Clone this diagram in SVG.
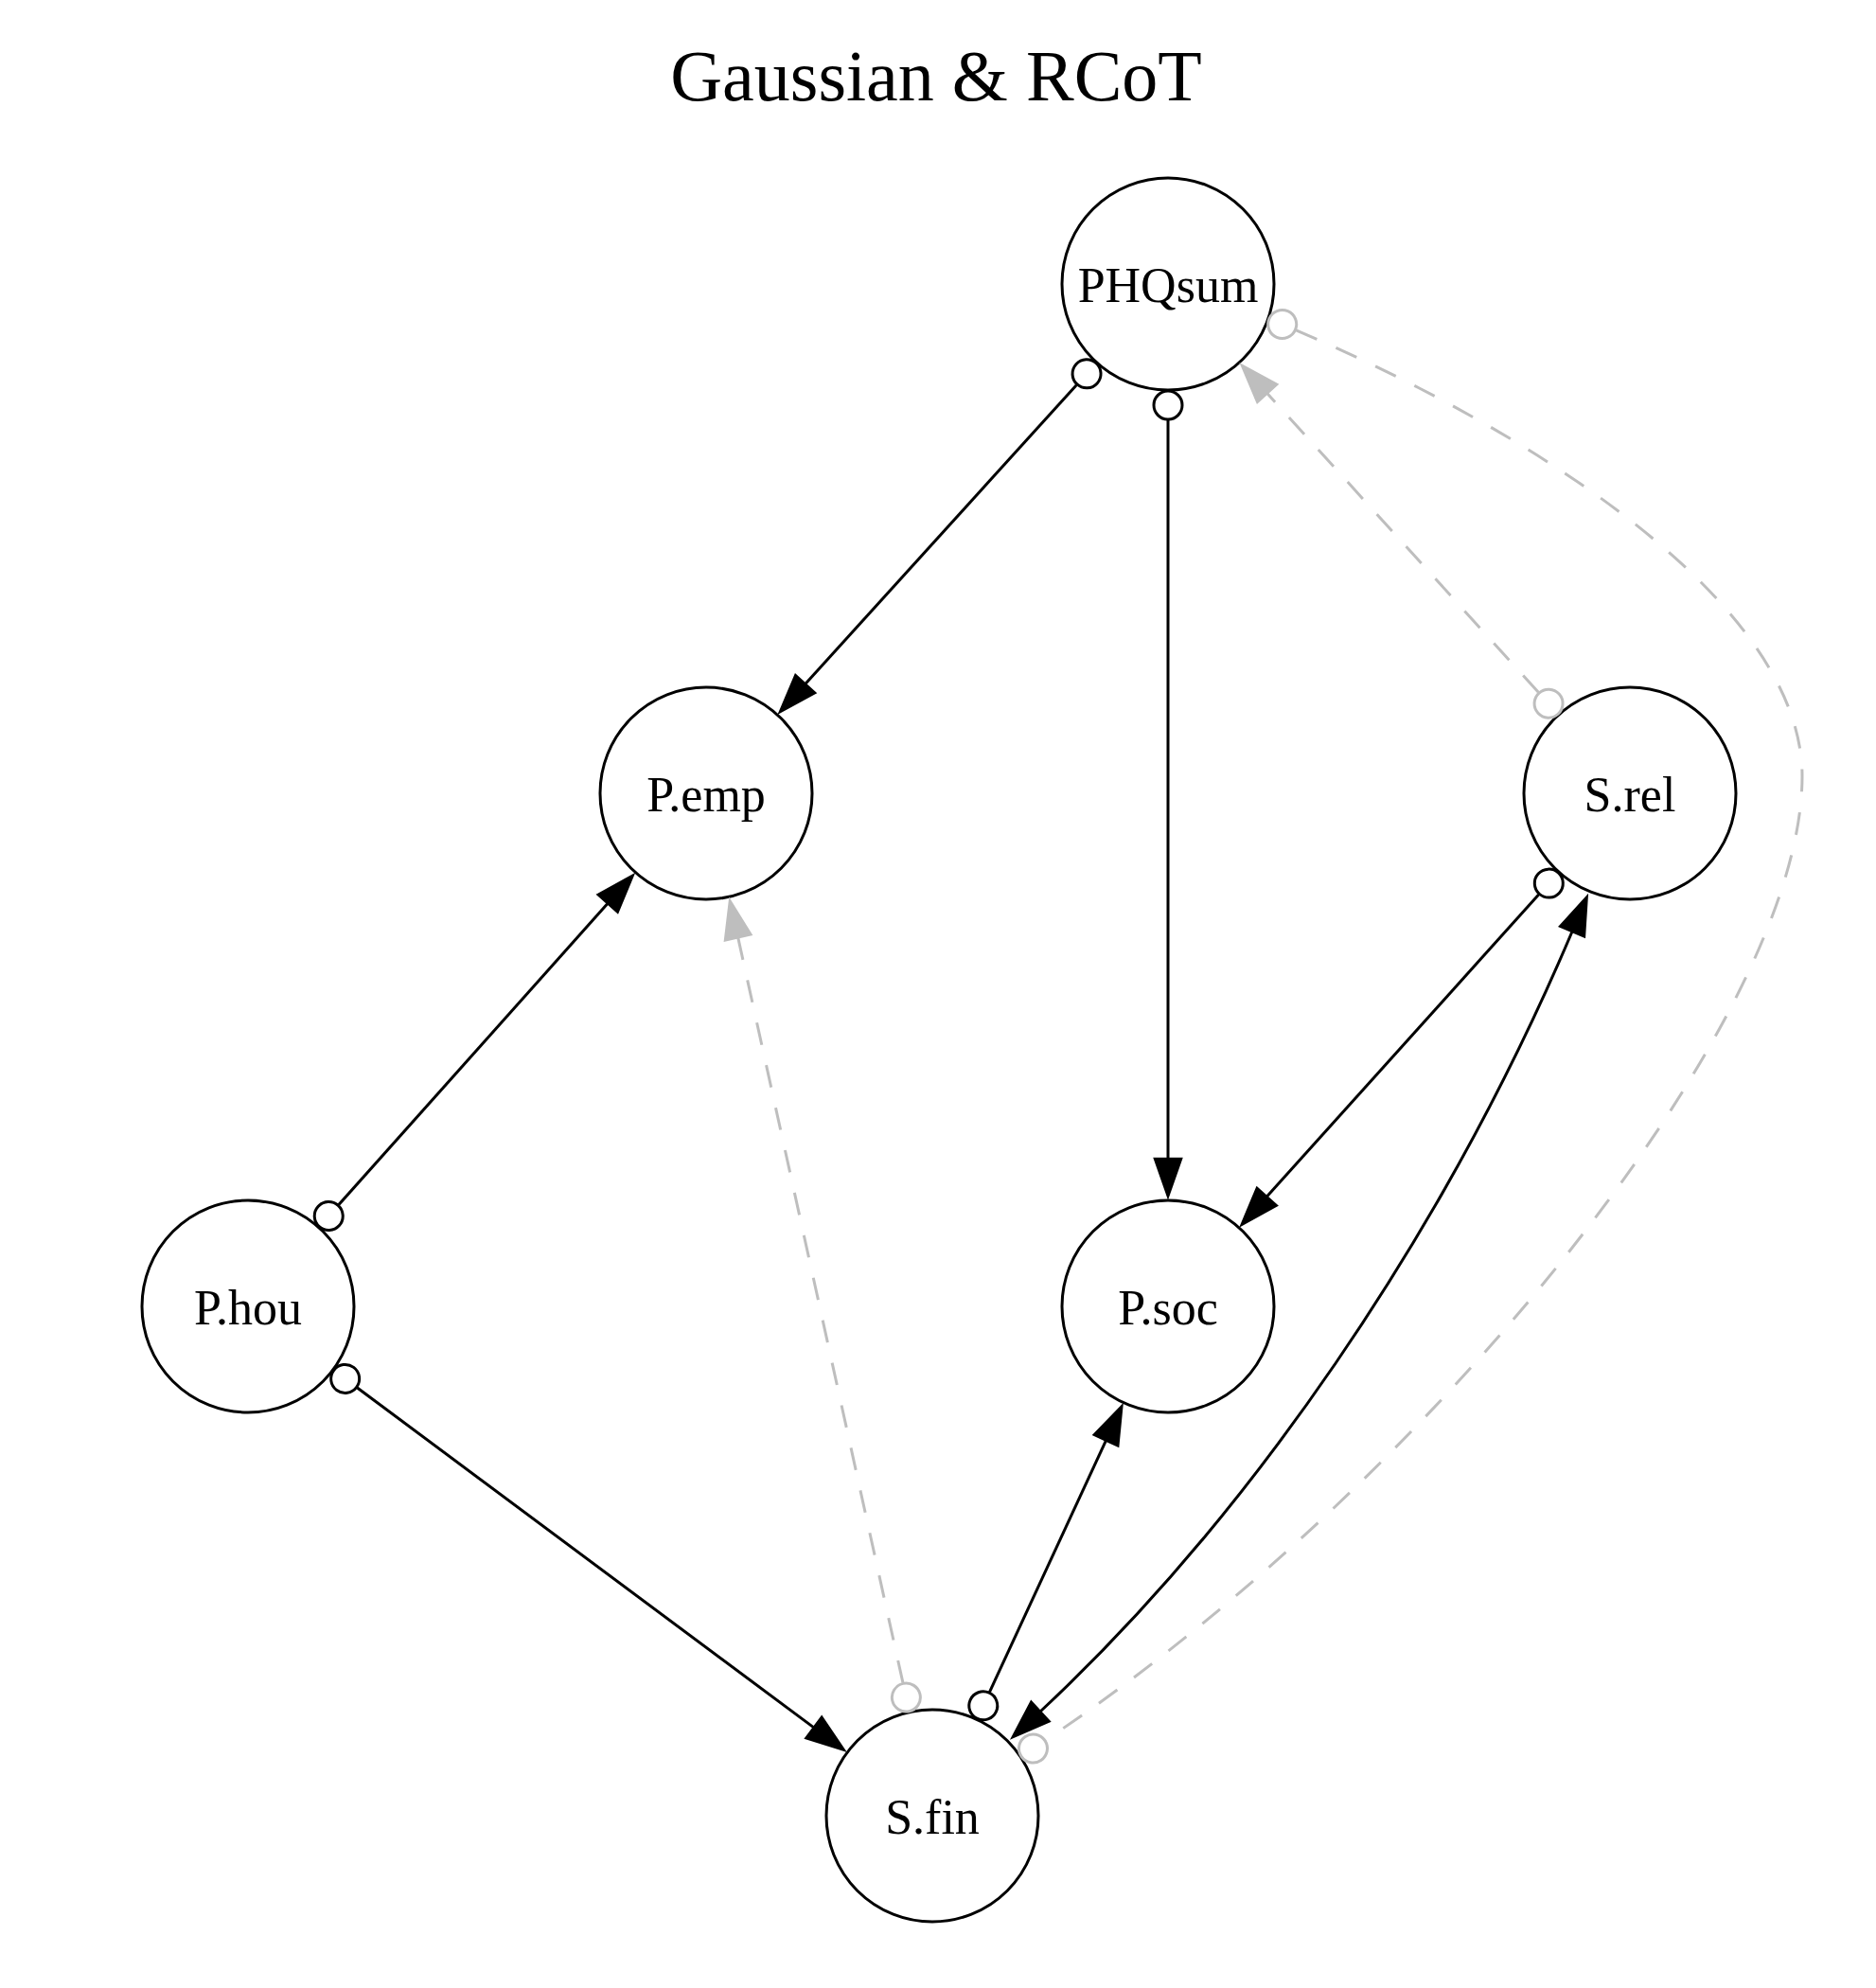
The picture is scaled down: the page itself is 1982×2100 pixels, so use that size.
<svg xmlns="http://www.w3.org/2000/svg" width="1982" height="2100" viewBox="0 0 1982 2100">
<style>
.node circle{fill:none;stroke:#000;stroke-width:3}
.node text{font-family:"Liberation Serif","Times New Roman",serif;font-size:52px;fill:#000;text-anchor:middle}
.title{font-family:"Liberation Serif","Times New Roman",serif;font-size:76px;fill:#000;text-anchor:middle}
.e{fill:none;stroke:#000;stroke-width:3}
.g{fill:none;stroke:#BEBEBE;stroke-width:3;stroke-dasharray:24,22}
</style>
<defs>
<marker id="arr" markerUnits="userSpaceOnUse" markerWidth="46" markerHeight="32" refX="0" refY="0" orient="auto-start-reverse" overflow="visible">
<path d="M0,-14 L40,0 L0,14 z" fill="#000" stroke="#000" stroke-width="2.5" stroke-dasharray="none"/>
</marker>
<marker id="arrg" markerUnits="userSpaceOnUse" markerWidth="46" markerHeight="32" refX="0" refY="0" orient="auto-start-reverse" overflow="visible">
<path d="M0,-14 L40,0 L0,14 z" fill="#BEBEBE" stroke="#BEBEBE" stroke-width="2.5" stroke-dasharray="none"/>
</marker>
<marker id="odot" markerUnits="userSpaceOnUse" markerWidth="34" markerHeight="34" refX="0" refY="0" orient="auto-start-reverse" overflow="visible">
<circle cx="16" cy="0" r="15" fill="none" stroke="#000" stroke-width="3" stroke-dasharray="none"/>
</marker>
<marker id="odotg" markerUnits="userSpaceOnUse" markerWidth="34" markerHeight="34" refX="0" refY="0" orient="auto-start-reverse" overflow="visible">
<circle cx="16" cy="0" r="15" fill="none" stroke="#BEBEBE" stroke-width="3" stroke-dasharray="none"/>
</marker>
</defs>
<rect x="0" y="0" width="1982" height="2100" fill="#fff"/>
<text class="title" x="989" y="106">Gaussian &amp; RCoT</text>

<g id="node-PHQsum" class="node"><circle cx="1234" cy="300" r="112"/><text x="1234" y="318.5">PHQsum</text></g>
<g id="node-P.emp" class="node"><circle cx="746" cy="838" r="112"/><text x="746" y="856.5">P.emp</text></g>
<g id="node-S.rel" class="node"><circle cx="1722" cy="838" r="112"/><text x="1722" y="856.5">S.rel</text></g>
<g id="node-P.hou" class="node"><circle cx="262" cy="1380" r="112"/><text x="262" y="1398.5">P.hou</text></g>
<g id="node-P.soc" class="node"><circle cx="1234" cy="1380" r="112"/><text x="1234" y="1398.5">P.soc</text></g>
<g id="node-S.fin" class="node"><circle cx="985" cy="1918" r="112"/><text x="985" y="1936.5">S.fin</text></g>

<g id="edges">
<path id="e-PHQsum-P.emp" class="e" d="M1137.3,406.7 L850.8,722.5" marker-start="url(#odot)" marker-end="url(#arr)"/>
<path id="e-PHQsum-P.soc" class="e" d="M1234,444 L1234,1224" marker-start="url(#odot)" marker-end="url(#arr)"/>
<path id="e-S.rel-PHQsum" class="g" d="M1625.3,731.3 L1338.8,415.5" marker-start="url(#odotg)" marker-end="url(#arrg)"/>
<path id="e-PHQsum-S.fin" class="g" d="M1369.4,348.8 C1627,459 1904,640 1904,820 C1904,1080 1504,1572 1104.8,1838.1" marker-start="url(#odotg)" marker-end="url(#odotg)"/>
<path id="e-S.rel-P.soc" class="e" d="M1625.6,945 L1338.4,1264.1" marker-start="url(#odot)" marker-end="url(#arr)"/>
<path id="e-S.fin-S.rel" class="e" d="M1099,1808 C1318,1604 1524.5,1306 1661,984" marker-start="url(#arr)" marker-end="url(#arr)"/>
<path id="e-S.fin-P.soc" class="e" d="M1045.5,1787.3 L1168.5,1521.6" marker-start="url(#odot)" marker-end="url(#arr)"/>
<path id="e-P.hou-P.emp" class="e" d="M357.9,1272.6 L642.1,954.3" marker-start="url(#odot)" marker-end="url(#arr)"/>
<path id="e-P.hou-S.fin" class="e" d="M377.5,1466 L859.8,1824.9" marker-start="url(#odot)" marker-end="url(#arr)"/>
<path id="e-S.fin-P.emp" class="g" d="M953.9,1777.4 L779.7,990.3" marker-start="url(#odotg)" marker-end="url(#arrg)"/>
</g>
</svg>
